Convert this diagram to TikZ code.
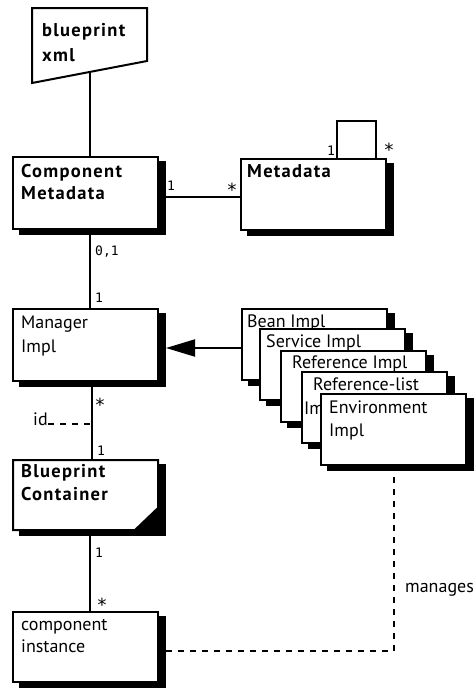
\documentclass[tikz,border=0pt]{standalone}
\usepackage{fontspec}
\setmainfont{PT Sans}[BoldFeatures={LetterSpace=7}]
\newfontfamily\monof{DejaVu Sans Mono}
\usetikzlibrary{arrows.meta,shadows,calc}
\pgfdeclarelayer{bg}
\pgfsetlayers{bg,main}
\tikzset{
 umlbox/.style={draw=black, line width=2pt, fill=white, minimum width=145pt, minimum height=71pt, anchor=north west, inner sep=0pt, outer sep=0pt, general shadow={fill=black, draw=black, line width=2pt, shadow xshift=7pt, shadow yshift=-5pt}},
 plainbox/.style={minimum width=145pt, minimum height=71pt, anchor=north west, inner sep=0pt, outer sep=0pt},
 txt/.style={anchor=base west, inner sep=0pt, font=\fontsize{18}{22}\selectfont},
 btxt/.style={anchor=base west, inner sep=0pt, font=\fontsize{18.5}{22}\selectfont\bfseries},
 mult/.style={anchor=base west, inner sep=0pt, font=\fontsize{13}{15}\selectfont\monof},
 star/.style={anchor=center, inner sep=0pt, yshift=-3.5pt, font=\fontsize{18}{20}\selectfont\monof},
 conn/.style={line width=2pt},
 dep/.style={line width=2pt, dash pattern=on 6pt off 6pt},
}
\begin{document}
\begin{tikzpicture}[x=1pt,y=-1pt]
\useasboundingbox (0,0) rectangle (474,688);
% blueprint xml
\node[plainbox, minimum width=115pt, minimum height=75pt] (bx) at (32,8) {};
\draw[line width=2pt, fill=white] (bx.north west) -- (bx.north east) -- ($(bx.south east)+(0,-22)$) -- (bx.south west) -- cycle;
\coordinate (bxb) at ($(bx.south west)!0.5!(bx.south east)+(0.5,-11)$);
\node[btxt] (bxt1) at (42,36) {blueprint};
\node[btxt] (bxt2) at (42,61) {xml};
% Component Metadata
\node[umlbox, minimum height=72pt] (cm) at (13,157) {};
\node[btxt] (cmt1) at (21,177) {Component};
\node[btxt] (cmt2) at (21,199) {Metadata};
% Metadata
\node[umlbox] (md) at (241,159) {};
\node[btxt] (mdt) at (247,177) {Metadata};
% Manager Impl
\node[umlbox, minimum height=72pt] (mi) at (13,309) {};
\node[txt] (mit1) at (21,328) {Manager};
\node[txt] (mit2) at (21,352) {Impl};
% Blueprint Container
\node[plainbox, minimum height=70pt] (bc) at (13,460) {};
\draw[line width=2pt, fill=black] ([shift={(7,5)}]bc.north west) rectangle ([shift={(7,5)}]bc.south east);
\draw[line width=2pt, fill=white] (bc.north west) -- (bc.north east) -- ($(bc.south east)+(0,-22)$) -- ($(bc.south east)+(-23,0)$) -- (bc.south west) -- cycle;
\node[btxt] (bct1) at (21,477) {Blueprint};
\node[btxt] (bct2) at (21,500) {Container};
% component instance
\node[umlbox, minimum height=70pt] (ci) at (13,612) {};
\node[txt] (cit1) at (21,630) {component};
\node[txt] (cit2) at (21,652) {instance};
% stack
\node[umlbox] (bean) at (242,309) {};
\node[txt] (beant) at (247,327) {Bean Impl};
\node[umlbox] (serv) at (260,329) {};
\node[txt] (servt) at (266,347) {Service Impl};
\node[umlbox] (ref) at (281,351) {};
\node[txt] (reft) at (292,368) {Reference Impl};
\node[umlbox] (rl) at (302,372) {};
\node[txt] (rlt1) at (313,390) {Reference-list};
\node[txt] (rlt2) at (304,414) {Impl};
\node[umlbox] (env) at (321,394) {};
\node[txt] (envt1) at (329,413) {Environment};
\node[txt] (envt2) at (329,436) {Impl};
% labels
\node[mult] (l1) at (167,190) {1};
\node[star] (l2) at (232,186) {*};
\node[mult] (l3) at (327,155) {1};
\node[star] (l4) at (389,146) {*};
\node[mult] (l5) at (95,255) {0,1};
\node[mult] (l6) at (95,302) {1};
\node[star] (l7) at (100,401) {*};
\node[txt] (id) at (33,425) {id};
\node[mult] (l8) at (97,455) {1};
\node[mult] (l9) at (95,557) {1};
\node[star] (l10) at (102,601) {*};
\node[txt] (mg) at (405,592) {manages};
% connectors
\coordinate (cmr) at ([xshift=8pt,yshift=-4pt]cm.east);
\coordinate (mie) at ([xshift=8pt]mi.east);
\coordinate (sp2) at ([xshift=6.5pt]mi.south);
\begin{pgfonlayer}{bg}
\draw[conn] (bxb) -- (bxb |- cm.north);
\draw[conn] ([xshift=4.5pt]cm.south) -- ([xshift=4.5pt]mi.north);
\draw[conn] (cmr) -- (cmr -| md.west);
\draw[conn] ([xshift=96pt]md.north west) -- ++(0,-38) -| ([xshift=135pt]md.north west);
\draw[conn, -{Triangle[length=29pt,width=17pt]}] ([yshift=-3.5pt]bean.west) -- ([yshift=-3.5pt]bean.west -| mie);
\draw[conn] (sp2) -- (sp2 |- bc.north);
\draw[dep] ([yshift=1pt]id.base east) -- ([yshift=1pt]id.base east -| sp2);
\draw[conn] ([xshift=4.5pt]bc.south) -- ([xshift=4.5pt]ci.north);
\draw[dep] ([xshift=8pt,yshift=-4pt]ci.east) -| (env.south);
\end{pgfonlayer}
\end{tikzpicture}
\end{document}
